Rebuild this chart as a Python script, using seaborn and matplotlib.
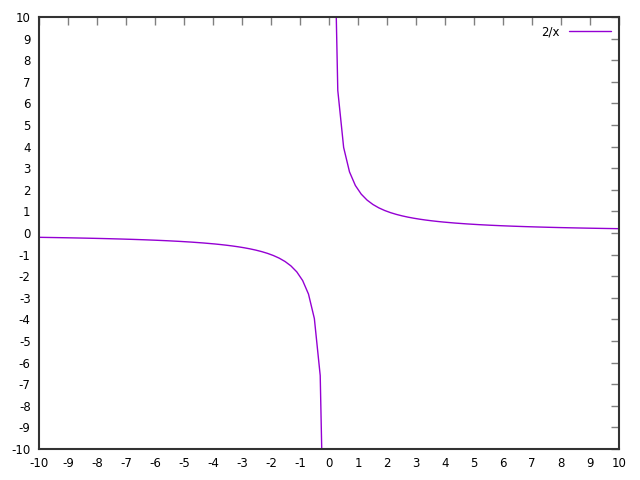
import numpy as np
import pandas as pd
import matplotlib
matplotlib.use('Agg')
import matplotlib.pyplot as plt
import seaborn as sns

# sampled points of 2/x (negative branch and positive branch)
x_neg = [-10.000, -9.596, -9.192, -8.788, -8.384, -7.980, -7.576, -7.172, -6.768,
         -6.364, -5.960, -5.556, -5.152, -4.747, -4.343, -3.939, -3.737, -3.535,
         -3.333, -3.131, -2.929, -2.727, -2.525, -2.323, -2.121, -1.919, -1.717,
         -1.515, -1.313, -1.111, -0.909, -0.707, -0.505, -0.303, -0.101]
y_neg = [-0.2000, -0.2084, -0.2176, -0.2276, -0.2386, -0.2506, -0.2640, -0.2789, -0.2955,
         -0.3143, -0.3356, -0.3600, -0.3882, -0.4213, -0.4605, -0.5077, -0.5352, -0.5657,
         -0.6000, -0.6387, -0.6828, -0.7333, -0.7920, -0.8609, -0.9429, -1.0421, -1.1647,
         -1.3200, -1.5231, -1.8000, -2.2000, -2.8286, -3.9600, -6.6000, -19.80]
x_pos = [0.101, 0.303, 0.505, 0.707, 0.909, 1.111, 1.313, 1.515, 1.717, 1.919,
         2.121, 2.323, 2.525, 2.727, 2.929, 3.131, 3.333, 3.535, 3.737, 3.939,
         4.343, 4.747, 5.152, 5.556, 5.960, 6.364, 6.768, 7.172, 7.576, 7.980,
         8.384, 8.788, 9.192, 9.596, 10.000]
y_pos = [19.80, 6.6000, 3.9600, 2.8286, 2.2000, 1.8000, 1.5231, 1.3200, 1.1647, 1.0421,
         0.9429, 0.8609, 0.7920, 0.7333, 0.6828, 0.6387, 0.6000, 0.5657, 0.5352, 0.5077,
         0.4605, 0.4213, 0.3882, 0.3600, 0.3356, 0.3143, 0.2955, 0.2789, 0.2640, 0.2506,
         0.2386, 0.2276, 0.2176, 0.2084, 0.2000]
ticks = list(range(-10, 11))

sns.set_style('white')
plt.rcParams['font.family'] = ['DejaVu Sans']
plt.rcParams['axes.unicode_minus'] = False

fig = plt.figure(figsize=(6.4, 4.8), dpi=100)
ax = fig.add_axes([39 / 640, 1 - 449 / 480, 580 / 640, 432 / 480])

color = '#9400d3'
sns.lineplot(x=x_neg, y=y_neg, ax=ax, color=color, lw=1, sort=False, estimator=None, label='2/x')
sns.lineplot(x=x_pos, y=y_pos, ax=ax, color=color, lw=1, sort=False, estimator=None)

ax.set_xlim(-10, 10)
ax.set_ylim(-10, 10)
ax.set_xticks(ticks)
ax.set_yticks(ticks)
ax.tick_params(direction='in', length=6, width=1, color='#808080', labelcolor='black',
               top=True, right=True, labelsize=8.5, pad=6)
for s in ax.spines.values():
    s.set_visible(True)
    s.set_color('#333333')
    s.set_linewidth(1.5)

leg = ax.legend(loc='upper right', frameon=False, markerfirst=False,
                fontsize=8.5, handlelength=3.5, borderaxespad=0.3)
for t in leg.get_texts():
    t.set_color('black')

fig.savefig('out.png', dpi=100)
